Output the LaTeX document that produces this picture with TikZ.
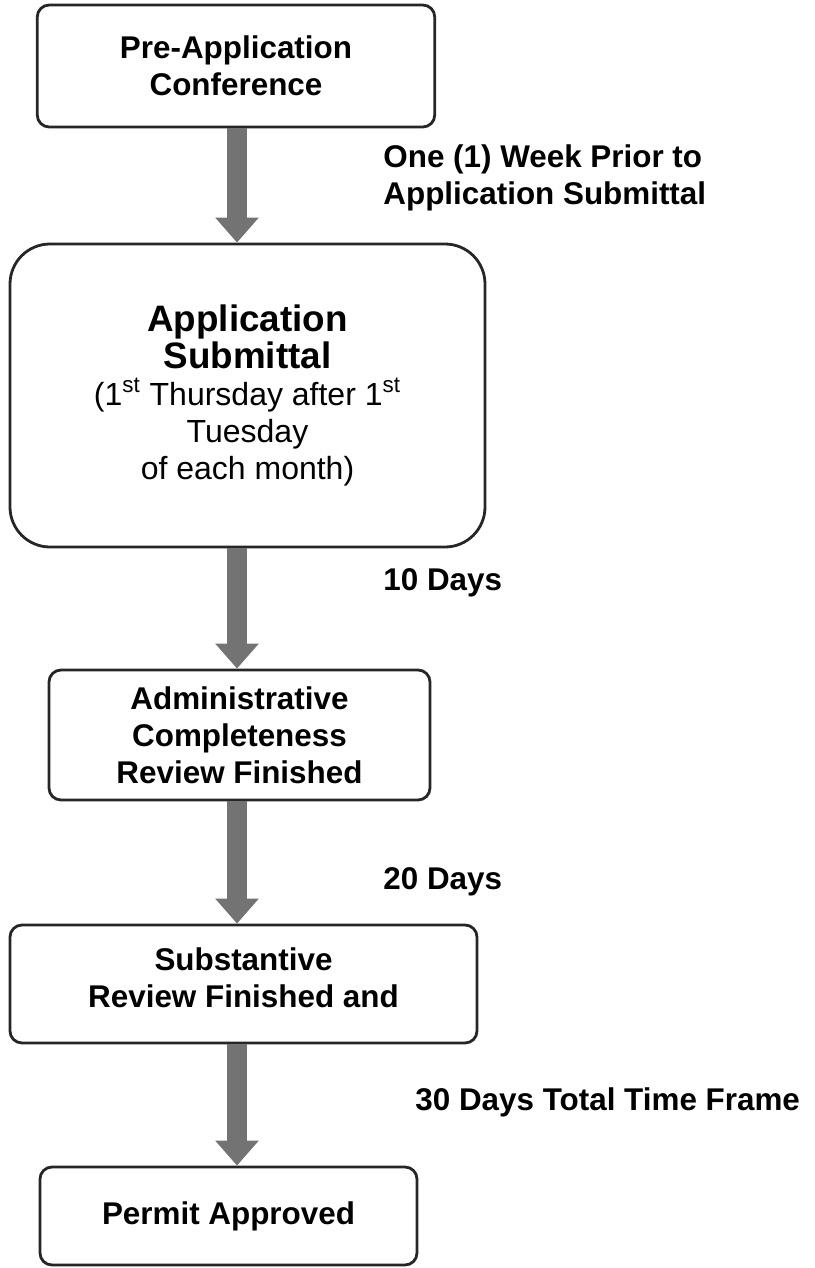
\documentclass[tikz,border=0pt]{standalone}
\usepackage{fontspec}
\setmainfont{Liberation Sans}
\usetikzlibrary{arrows.meta}

\begin{document}
\begin{tikzpicture}[x=0.5pt,y=-0.5pt,
    stage/.style={draw=black!85,line width=1.4pt,rounded corners=6pt,align=center,inner sep=0pt,font=\bfseries\fontsize{15.7}{18.5}\selectfont},
    flow/.style={line width=10pt,draw=black!55,-{Triangle[width=21pt,length=12.5pt]}},
    note/.style={anchor=west,align=left,inner sep=0pt,font=\bfseries\fontsize{15.7}{18.5}\selectfont}]

            \useasboundingbox (0,0) rectangle (814,1268);
            \coordinate (spine) at (237,0);

            \node[stage,minimum width=198.75pt,minimum height=61pt] (conf) at (236,66) {Pre-Application\\Conference};
            \node[stage,rounded corners=20pt,minimum width=237.5pt,minimum height=151.5pt] (submit) at (247.5,395.5)
                {\fontsize{18.4}{18}\selectfont Application\\
                 \fontsize{18.4}{18}\selectfont Submittal\\
                 \mdseries\fontsize{16}{24}\selectfont (1\textsuperscript{st} Thursday after 1\textsuperscript{st}\\
                 \mdseries\fontsize{16}{16.5}\selectfont Tuesday\\
                 \mdseries\fontsize{16}{16.5}\selectfont of each month)};
            \node[stage,minimum width=190.5pt,minimum height=65pt] (admin) at (239.5,735) {Administrative\\Completeness\\Review Finished};
            \node[stage,minimum width=233.5pt,minimum height=59pt] (subst) at (243.5,984) {Substantive\\Review Finished and\\[-12pt]\mbox{}};
            \node[stage,minimum width=188.5pt,minimum height=49pt] (permit) at (228.5,1216) {Permit Approved};

            \draw[flow] (conf.south -| spine) -- (submit.north -| spine);
            \draw[flow] (submit.south -| spine) -- (admin.north -| spine);
            \draw[flow] (admin.south -| spine) -- (subst.north -| spine);
            \draw[flow] (subst.south -| spine) -- (permit.north -| spine);

            \node[note] (week) at (383,178) {One (1) Week Prior to\\Application Submittal};
            \node[note] (ten) at (383,583) {10 Days};
            \node[note] (twenty) at (383,882) {20 Days};
            \node[note] (thirty) at (415,1102) {30 Days Total Time Frame};

            ;
        \end{tikzpicture}
\end{document}
